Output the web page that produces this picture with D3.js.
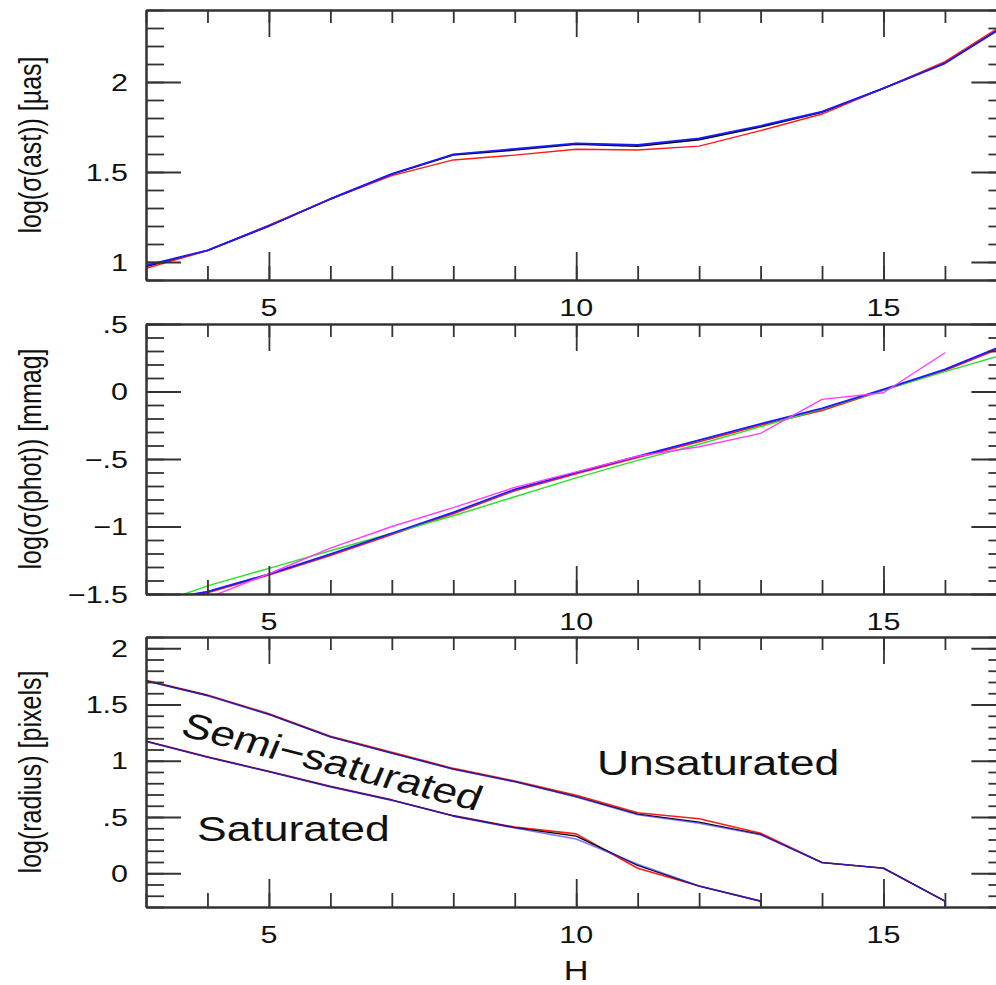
<!DOCTYPE html>
<html>
<head>
<meta charset="utf-8">
<script src="https://cdn.jsdelivr.net/npm/d3@7"></script>
<style>
  body { margin: 0; background: #fff; }
  text { font-family: "Liberation Sans", Arial, sans-serif; fill: #111; }
</style>
</head>
<body>
<script>
// H magnitudes shared by all three panels
const H = [3, 4, 5, 6, 7, 8, 9, 10, 11, 12, 13, 14, 15, 16, 17];

// Panel 1: log(sigma(ast)) [µas]
const astBlack = [0.975, 1.064, 1.200, 1.350, 1.488, 1.595, 1.622, 1.655, 1.643, 1.680, 1.750, 1.832, 1.965, 2.106, 2.320];
const astRed   = [0.965, 1.063, 1.205, 1.350, 1.480, 1.567, 1.594, 1.626, 1.622, 1.644, 1.730, 1.822, 1.965, 2.113, 2.330];
const astBlue  = [0.980, 1.065, 1.200, 1.350, 1.490, 1.598, 1.628, 1.659, 1.650, 1.687, 1.756, 1.835, 1.965, 2.104, 2.318];

// Panel 2: log(sigma(phot)) [mmag]
const photRed     = [-1.57, -1.490, -1.360, -1.215, -1.060, -0.905, -0.735, -0.610, -0.488, -0.372, -0.250, -0.140, 0.010, 0.155, 0.340];
const photGreen   = [-1.60, -1.440, -1.310, -1.180, -1.050, -0.920, -0.780, -0.640, -0.510, -0.390, -0.260, -0.130, 0.010, 0.147, 0.280];
const photBlue    = [-1.56, -1.483, -1.352, -1.205, -1.050, -0.895, -0.725, -0.600, -0.480, -0.360, -0.240, -0.125, 0.016, 0.164, 0.350];
const photMagenta = [-1.70, -1.530, -1.350, -1.160, -1.000, -0.860, -0.710, -0.595, -0.480, -0.409, -0.310, -0.058, -0.009, 0.287, null];

// Panel 3: log(radius) [pixels], semi-saturated (upper) and saturated (lower) limits
const radUpRed    = [1.715, 1.585, 1.418, 1.218, 1.075, 0.932, 0.820, 0.694, 0.538, 0.484, 0.355, 0.095, 0.045, -0.248, -10];
const radUpBlack  = [1.710, 1.580, 1.412, 1.212, 1.068, 0.926, 0.814, 0.682, 0.525, 0.455, 0.345, 0.095, 0.045, -0.248, -10];
const radUpBlue   = [1.709, 1.578, 1.411, 1.211, 1.067, 0.924, 0.813, 0.678, 0.520, 0.445, 0.343, 0.095, 0.045, -0.248, -10];
const radLowRed   = [1.176, 1.036, 0.906, 0.772, 0.652, 0.512, 0.410, 0.350, 0.045, -0.114, -0.248, -10, null, null, null];
const radLowBlack = [1.172, 1.032, 0.903, 0.769, 0.649, 0.509, 0.405, 0.330, 0.070, -0.114, -0.248, -10, null, null, null];
const radLowBlue  = [1.171, 1.031, 0.902, 0.768, 0.648, 0.508, 0.402, 0.305, 0.081, -0.114, -0.248, -10, null, null, null];

const titles = ["log(σ(ast)) [µas]", "log(σ(phot)) [mmag]", "log(radius) [pixels]"];
const regionLabels = ["Semi−saturated", "Unsaturated", "Saturated"];

const W = 996, HT = 985;
const SX = 1.27; // the source picture is stretched horizontally

const svg = d3.select("body").append("svg")
    .attr("width", W)
    .attr("height", HT);

const x = d3.scaleLinear().domain([3, 17]).range([146, 1006.4]);

function stretchedText(g, tx, ty, str, size, anchor, rot) {
  return g.append("text")
    .attr("transform", `translate(${tx},${ty}) scale(${SX},1)` + (rot ? ` rotate(${rot})` : ""))
    .attr("text-anchor", anchor)
    .style("font-size", size + "px")
    .text(str);
}

function fmt(v) {
  let s = String(+v.toFixed(1));
  s = s.replace(/^0\./, ".").replace(/^-0\./, "-.");
  return s.replace("-", "\u2212");
}

function panel(idx, top, bottom, yDomain, majors, series) {
  const y = d3.scaleLinear().domain(yDomain).range([bottom, top]);
  const g = svg.append("g").attr("class", "panel-" + idx);
  const minors = d3.range(Math.round(yDomain[0] * 10), Math.round(yDomain[1] * 10) + 1).map(v => v / 10);
  const xMinors = d3.range(3, 18);
  const xMajors = [5, 10, 15];

  const clipId = "clip" + idx;
  g.append("clipPath").attr("id", clipId)
    .append("rect")
    .attr("x", x.range()[0]).attr("y", top)
    .attr("width", x.range()[1] - x.range()[0]).attr("height", bottom - top);

  // series
  const line = d3.line()
      .defined(d => d[1] != null)
      .x(d => x(d[0]))
      .y(d => y(d[1]));

  const lines = g.append("g").attr("clip-path", `url(#${clipId})`);
  series.forEach(s => {
    lines.append("path")
      .datum(H.map((h, i) => [h, s.values[i]]))
      .attr("fill", "none")
      .attr("stroke", s.color)
      .attr("stroke-width", s.width || 1.6)
      .attr("stroke-opacity", s.opacity || 1)
      .attr("stroke-linejoin", "round")
      .attr("d", line);
  });

  // inward ticks on all four sides
  const axes = [
    [d3.axisLeft(y).tickValues(minors).tickSize(-18), `translate(${x.range()[0]},0)`],
    [d3.axisLeft(y).tickValues(majors).tickSize(-35), `translate(${x.range()[0]},0)`],
    [d3.axisRight(y).tickValues(minors).tickSize(-18), `translate(${x.range()[1]},0)`],
    [d3.axisRight(y).tickValues(majors).tickSize(-35), `translate(${x.range()[1]},0)`],
    [d3.axisBottom(x).tickValues(xMinors).tickSize(-14), `translate(0,${bottom})`],
    [d3.axisBottom(x).tickValues(xMajors).tickSize(-28), `translate(0,${bottom})`],
    [d3.axisTop(x).tickValues(xMinors).tickSize(-13), `translate(0,${top})`],
    [d3.axisTop(x).tickValues(xMajors).tickSize(-27), `translate(0,${top})`]
  ];
  axes.forEach(([ax, tr]) => {
    const a = g.append("g").attr("transform", tr)
      .call(ax.tickFormat("").tickSizeOuter(0));
    a.selectAll(".tick line").attr("stroke", "#333").attr("stroke-width", 1.8);
    a.select(".domain").attr("stroke", "#333").attr("stroke-width", 2);
  });

  // labels
  majors.forEach(v => stretchedText(g, 128, y(v) + 8.5, fmt(v), 24, "end"));
  xMajors.forEach(v => stretchedText(g, x(v), bottom + 36, String(v), 24, "middle"));
  stretchedText(g, 41, (top + bottom) / 2, titles[idx], 25, "middle", -90);

  return { g, y };
}

panel(0, 10, 280, [0.9, 2.4], [1, 1.5, 2], [
  { values: astBlack, color: "#000000", width: 1.6 },
  { values: astRed,   color: "#ff1a1a", width: 1.4 },
  { values: astBlue,  color: "#1a1aff", width: 1.9 }
]);

panel(1, 324, 594, [-1.5, 0.5], [-1.5, -1, -0.5, 0, 0.5], [
  { values: photRed,     color: "#ff1a1a", width: 1.6 },
  { values: photGreen,   color: "#2ee02e", width: 1.5 },
  { values: photBlue,    color: "#1a1aff", width: 1.8 },
  { values: photMagenta, color: "#ff3dff", width: 1.4 }
]);

const p3 = panel(2, 637, 907, [-0.3, 2.1], [0, 0.5, 1, 1.5, 2], [
  { values: radUpRed,    color: "#ff1a1a", width: 1.6 },
  { values: radUpBlack,  color: "#000000", width: 1.3 },
  { values: radUpBlue,   color: "#3a2aff", width: 1.6, opacity: 0.65 },
  { values: radLowRed,   color: "#ff1a1a", width: 1.6 },
  { values: radLowBlack, color: "#000000", width: 1.3 },
  { values: radLowBlue,  color: "#3a2aff", width: 1.6, opacity: 0.65 }
]);

stretchedText(p3.g, 179, 735, regionLabels[0], 35, "start", 18);
stretchedText(p3.g, 597, 775, regionLabels[1], 35, "start");
stretchedText(p3.g, 197, 841, regionLabels[2], 35, "start");

stretchedText(svg, x(10), 980, "H", 27, "middle");
</script>
</body>
</html>
